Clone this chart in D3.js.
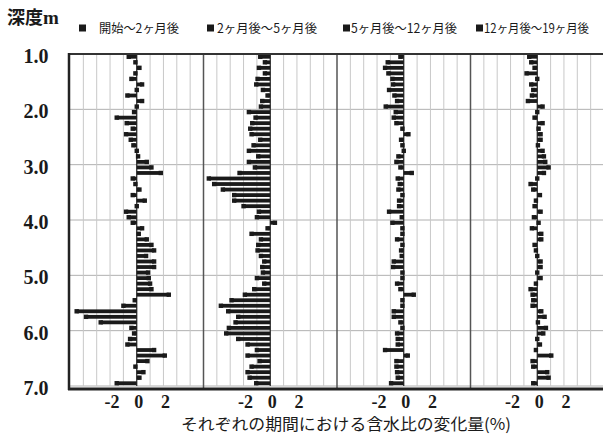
<!DOCTYPE html>
<html>
<head>
<meta charset="utf-8">
<script src="https://cdn.jsdelivr.net/npm/d3@7"></script>
<style>
  body { margin: 0; background: #fff; }
  svg { display: block; }
</style>
</head>
<body>
<div id="chart"></div>
<script>
// depth of each measured layer (m), one bar per layer
const depths = [1.05, 1.15, 1.25, 1.35, 1.45, 1.55, 1.65, 1.75, 1.85, 1.95,
                2.05, 2.15, 2.25, 2.35, 2.45, 2.55, 2.65, 2.75, 2.85, 2.95,
                3.05, 3.15, 3.25, 3.35, 3.45, 3.55, 3.65, 3.75, 3.85, 3.95,
                4.05, 4.15, 4.25, 4.35, 4.45, 4.55, 4.65, 4.75, 4.85, 4.95,
                5.05, 5.15, 5.25, 5.35, 5.45, 5.55, 5.65, 5.75, 5.85, 5.95,
                6.05, 6.15, 6.25, 6.35, 6.45, 6.55, 6.65, 6.75, 6.85, 6.95];

const periods = ["開始～2ヶ月後", "2ヶ月後～5ヶ月後", "5ヶ月後～12ヶ月後", "12ヶ月後～19ヶ月後"];

// change of water content (%) per period
const period1 = [-0.6, -0.1, 0.2, -0.1, -0.4, 0.4, 0, -0.7, 0.4, 0,
                 -0.2, -1.5, -0.75, -0.3, -0.8, -0.45, -0.25, 0, 0.1, 0.75,
                 1.1, 1.8, -0.3, -0.1, 0.2, -0.3, 0.6, 0, -0.8, -0.6,
                 -0.3, 0.4, 0.15, 0.75, 1.1, 1.3, 0.7, 1.3, 1.3, 0.85,
                 0.9, 1.0, 1.1, 2.4, -0.15, -1.0, -4.5, -3.8, -2.7, -0.4,
                 -0.2, -0.5, -0.7, 1.3, 2.1, 0.8, -0.1, 0.5, 0.2, -1.5];
const period2 = [-0.75, -0.4, -0.85, -0.4, -0.95, -1.05, -0.55, -0.2, -0.6, -0.7,
                 -1.6, -1.1, -1.35, -1.5, -1.4, -0.75, -1.25, -1.6, -0.9, -1.6,
                 -1.15, -2.3, -4.6, -4.2, -3.55, -2.7, -2.7, -2.0, -0.85, -1.0,
                 0.35, -0.2, -1.4, -0.7, -0.9, -0.95, -0.7, -0.45, -0.6, -0.55,
                 -1.0, -0.45, -1.2, -1.9, -2.9, -3.7, -3.15, -2.4, -2.6, -3.1,
                 -3.3, -2.4, -1.7, -1.0, -1.7, -0.8, -1.4, -1.7, -1.55, -1.05];
const period3 = [-0.25, -1.2, -1.4, -1.15, -0.85, -0.8, -1.1, -0.7, -0.5, -1.35,
                 -0.6, -0.75, -0.55, -0.1, 0.35, -0.2, -0.1, 0, -0.4, -0.55,
                 -0.25, 0.6, -0.45, -0.3, -0.4, -0.1, -0.35, -0.35, -1.1, -0.15,
                 -0.85, -0.1, -0.1, -0.5, -0.1, -0.2, -0.15, -0.75, -0.8, -0.1,
                 -0.1, -0.5, -0.25, 0.75, -0.1, -0.1, -0.75, -0.75, -0.25, -0.1,
                 -0.5, -0.45, -0.45, -1.4, 0.3, -0.55, -0.55, -0.5, -0.45, -0.95];
const period4 = [-0.6, -0.45, -0.2, -0.8, 0, -0.45, -0.3, -0.4, -0.7, 0.4,
                 0, -0.2, 0.4, 0.1, 0.25, 0.25, 0.05, 0.4, 0.5, 0.6,
                 0.85, 0.5, 0, -0.5, -0.3, 0.2, -0.1, -0.2, 0.25, -0.25,
                 0.1, -0.4, 0.3, 0.3, -0.2, -0.1, 0, 0.25, 0.25, 0,
                 0.25, -0.1, -0.5, -0.35, -0.3, -0.35, 0.3, 0.55, 0.05, 0.65,
                 0.45, 0, 0.2, -0.1, 1.05, -0.35, -0.3, 0.75, 0.85, -0.3];

const series = [period1, period2, period3, period4];
const depthTicks = [1, 2, 3, 4, 5, 6, 7];
const xTicks = [-2, 0, 2];

const width = 603, height = 437;
const plotLeft = 70, plotTop = 54, plotBottom = 386;
const panelW = 133.5;

const svg = d3.select("#chart").append("svg")
    .attr("width", width)
    .attr("height", height);

const y = d3.scaleLinear().domain([1, 7]).range([plotTop, plotBottom]);

const serif = "'Liberation Serif', 'DejaVu Serif', serif";
const gothic = "'Noto Sans CJK JP', sans-serif";

// horizontal grid lines
svg.append("g")
    .selectAll("line")
    .data(depthTicks.slice(1))
    .enter().append("line")
    .attr("x1", plotLeft).attr("x2", plotLeft + panelW * 4)
    .attr("y1", d => y(d)).attr("y2", d => y(d))
    .attr("stroke", "#b0b0b0")
    .attr("stroke-width", 1);

series.forEach((values, p) => {
    const x0 = plotLeft + panelW * p;
    const x = d3.scaleLinear().domain([-5, 5]).range([x0, x0 + panelW]);
    const g = svg.append("g").attr("class", "panel");

    // vertical grid lines
    g.selectAll("line.grid")
        .data(d3.range(-4, 5).filter(v => v !== 0))
        .enter().append("line")
        .attr("class", "grid")
        .attr("x1", d => x(d)).attr("x2", d => x(d))
        .attr("y1", plotTop).attr("y2", plotBottom)
        .attr("stroke", "#c8c8c8")
        .attr("stroke-width", 1);

    // panel divider
    if (p > 0) {
        g.append("line")
            .attr("x1", x(-5)).attr("x2", x(-5))
            .attr("y1", plotTop).attr("y2", plotBottom + 2)
            .attr("stroke", "#555")
            .attr("stroke-width", 1.5);
    }

    // zero line
    g.append("line")
        .attr("x1", x(0)).attr("x2", x(0))
        .attr("y1", plotTop).attr("y2", plotBottom)
        .attr("stroke", "#222")
        .attr("stroke-width", 1.2);

    // bars
    g.selectAll("rect.bar")
        .data(values)
        .enter().append("rect")
        .attr("class", "bar")
        .attr("x", d => Math.min(x(0), x(d)))
        .attr("y", (d, i) => y(depths[i]) - 1.9)
        .attr("width", d => Math.abs(x(d) - x(0)))
        .attr("height", 3.8)
        .attr("fill", "#1a1a1a");

    // end markers
    g.selectAll("rect.mark")
        .data(values)
        .enter().append("rect")
        .attr("class", "mark")
        .attr("x", d => x(d) - 2.2)
        .attr("y", (d, i) => y(depths[i]) - 2.2)
        .attr("width", 4.4)
        .attr("height", 4.4)
        .attr("fill", "#1a1a1a");

    // x tick labels
    const ax = g.append("g")
        .attr("transform", `translate(1.5,${plotBottom + 3})`)
        .call(d3.axisBottom(x).tickValues(xTicks).tickSize(0).tickPadding(6).tickFormat(d => String(d)));
    ax.select(".domain").remove();
    ax.selectAll("text")
        .attr("font-family", serif)
        .attr("font-weight", "bold")
        .attr("font-size", 18)
        .attr("fill", "#1a1a1a");
});

// top border
svg.append("line")
    .attr("x1", plotLeft).attr("x2", width)
    .attr("y1", plotTop).attr("y2", plotTop)
    .attr("stroke", "#333")
    .attr("stroke-width", 2);

// left border
svg.append("line")
    .attr("x1", plotLeft - 1).attr("x2", plotLeft - 1)
    .attr("y1", plotTop - 1).attr("y2", plotBottom + 4)
    .attr("stroke", "#222")
    .attr("stroke-width", 2.5);

// bottom axis line
svg.append("line")
    .attr("x1", plotLeft - 2).attr("x2", width)
    .attr("y1", plotBottom + 3).attr("y2", plotBottom + 3)
    .attr("stroke", "#222")
    .attr("stroke-width", 3);

// y axis labels
const ay = svg.append("g")
    .attr("transform", `translate(48.5,2)`)
    .call(d3.axisLeft(y).tickValues(depthTicks).tickSize(0).tickPadding(0).tickFormat(d3.format(".1f")));
ay.select(".domain").remove();
ay.selectAll("text")
    .attr("font-family", serif)
    .attr("font-weight", "bold")
    .attr("font-size", 20)
    .attr("fill", "#1a1a1a");

// axis titles
svg.append("text")
    .attr("x", 7).attr("y", 24)
    .attr("font-family", gothic)
    .attr("font-weight", "bold")
    .attr("font-size", 18)
    .attr("fill", "#1a1a1a")
    .text("深度")
  .append("tspan")
    .attr("font-family", serif)
    .attr("font-size", 19)
    .text("m");

svg.append("text")
    .attr("x", 181).attr("y", 430)
    .attr("font-family", gothic)
    .attr("font-size", 16)
    .attr("textLength", 330)
    .attr("lengthAdjust", "spacingAndGlyphs")
    .attr("fill", "#1a1a1a")
    .text("それぞれの期間における含水比の変化量(%)");

// legend
const legendSquares = [79, 207, 343, 476];
const legendTexts = [[99, 80], [217, 100], [351, 106], [484, 105]];
const lg = svg.append("g");
periods.forEach((name, i) => {
    lg.append("rect")
        .attr("x", legendSquares[i]).attr("y", 24.5)
        .attr("width", 7).attr("height", 7)
        .attr("fill", "#1a1a1a");
    lg.append("text")
        .attr("x", legendTexts[i][0]).attr("y", 33)
        .attr("font-family", gothic)
        .attr("font-size", 12.5)
        .attr("textLength", legendTexts[i][1])
        .attr("lengthAdjust", "spacingAndGlyphs")
        .attr("fill", "#1a1a1a")
        .text(name);
});
</script>
</body>
</html>
